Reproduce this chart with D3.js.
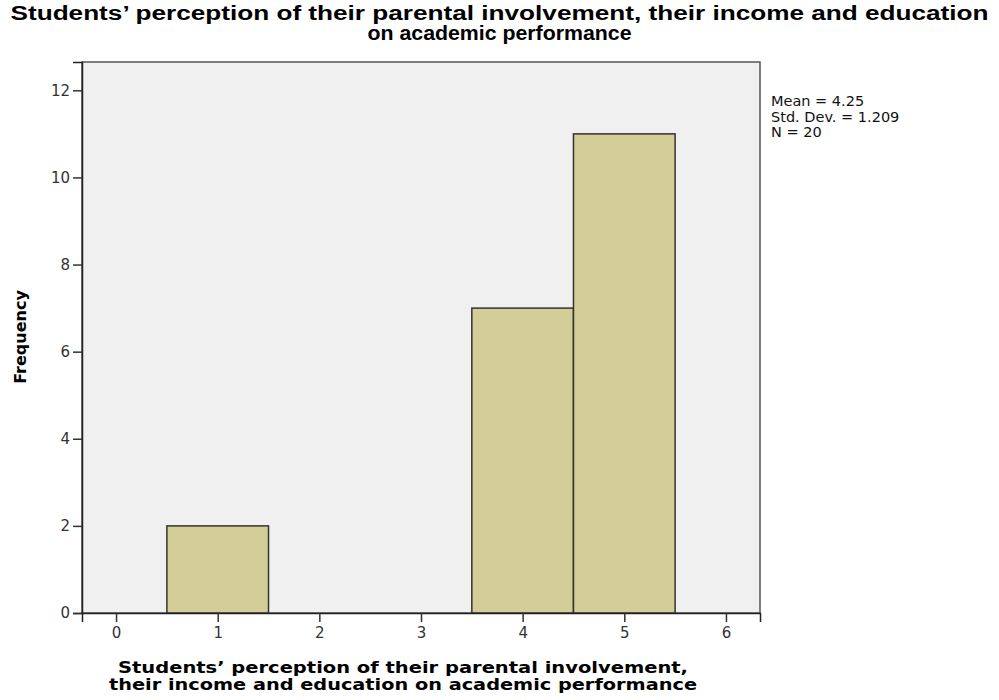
<!DOCTYPE html>
<html>
<head>
<meta charset="utf-8">
<script src="https://cdn.jsdelivr.net/npm/d3@7"></script>
<style>
  body { margin: 0; background: #fff; }
  svg { display: block; }
</style>
</head>
<body>
<div id="chart"></div>
<script>
// histogram data: bin centre and count
const binCenters = [1, 2, 3, 4, 5];
const binCounts = [2, 0, 0, 7, 11];
const binWidth = 1;
const xTicks = [0, 1, 2, 3, 4, 5, 6];
const yTicks = [0, 2, 4, 6, 8, 10, 12];
const statsLines = ["Mean = 4.25", "Std. Dev. = 1.209", "N = 20"];
const titleLines = [
  "Students\u2019 perception of their parental involvement, their income and education",
  "on academic performance"
];
const xLabelLines = [
  "Students\u2019 perception of their parental involvement,",
  "their income and education on academic performance"
];

const W = 999, H = 700;
const plot = { left: 82, right: 760, top: 62, bottom: 613 };

const svg = d3.select("#chart").append("svg")
  .attr("width", W)
  .attr("height", H);

const x = d3.scaleLinear().domain([-0.335, 6.335]).range([plot.left, plot.right]);
const y = d3.scaleLinear().domain([0, 12.65]).range([plot.bottom, plot.top]);

// plot background
svg.append("rect")
  .attr("x", plot.left)
  .attr("y", plot.top)
  .attr("width", plot.right - plot.left)
  .attr("height", plot.bottom - plot.top)
  .attr("fill", "#f0f0f0")
  .attr("stroke", "#555")
  .attr("stroke-width", 1.5);

// bars
const bins = binCenters.map((c, i) => ({ c: c, n: binCounts[i] })).filter(d => d.n > 0);
svg.append("g")
  .selectAll("rect")
  .data(bins)
  .join("rect")
  .attr("x", d => x(d.c - binWidth / 2))
  .attr("y", d => y(d.n))
  .attr("width", d => x(d.c + binWidth / 2) - x(d.c - binWidth / 2))
  .attr("height", d => y(0) - y(d.n))
  .attr("fill", "#d3ce98")
  .attr("stroke", "#333")
  .attr("stroke-width", 1.5);

// axes
const yAxis = svg.append("g")
  .attr("transform", `translate(${plot.left},0)`)
  .call(d3.axisLeft(y).tickValues(yTicks).tickFormat(d3.format("d")).tickSize(9).tickPadding(3));
const xAxis = svg.append("g")
  .attr("transform", `translate(0,${plot.bottom})`)
  .call(d3.axisBottom(x).tickValues(xTicks).tickFormat(d3.format("d")).tickSize(9).tickPadding(5));

[xAxis, yAxis].forEach(a => {
  a.attr("font-size", 15).attr("font-family", "'DejaVu Sans', Verdana, sans-serif");
  a.select(".domain").attr("stroke", "#222").attr("stroke-width", 1.5);
  a.selectAll(".tick line").attr("stroke", "#333").attr("stroke-width", 1.5);
  a.selectAll(".tick text").attr("fill", "#333");
});

// title
svg.append("g")
  .selectAll("text")
  .data(titleLines)
  .join("text")
  .attr("x", W / 2)
  .attr("y", (d, i) => 20 + i * 20)
  .attr("text-anchor", "middle")
  .attr("textLength", (d, i) => i === 0 ? 978 : 264)
  .attr("lengthAdjust", "spacingAndGlyphs")
  .style("font-family", "'Liberation Sans Narrow', 'Arial Narrow', Arial, sans-serif")
  .style("font-weight", "bold")
  .style("font-size", "20px")
  .attr("fill", "#000")
  .text(d => d);

// x axis label
svg.append("g")
  .selectAll("text")
  .data(xLabelLines)
  .join("text")
  .attr("x", (plot.left + 730) / 2 - 3)
  .attr("y", (d, i) => 673 + i * 17)
  .attr("text-anchor", "middle")
  .attr("textLength", (d, i) => i === 0 ? 570 : 588)
  .attr("lengthAdjust", "spacingAndGlyphs")
  .style("font-family", "'DejaVu Sans', Verdana, sans-serif")
  .style("font-weight", "bold")
  .style("font-size", "15px")
  .attr("fill", "#000")
  .text(d => d);

// y axis label
svg.append("text")
  .attr("transform", `translate(26,337) rotate(-90)`)
  .attr("text-anchor", "middle")
  .style("font-family", "'DejaVu Sans', Verdana, sans-serif")
  .style("font-weight", "bold")
  .style("font-size", "16px")
  .attr("fill", "#000")
  .text("Frequency");

// stats box
svg.append("g")
  .selectAll("text")
  .data(statsLines)
  .join("text")
  .attr("x", 771)
  .attr("y", (d, i) => 106 + i * 15.5)
  .style("font-family", "'DejaVu Sans', Verdana, sans-serif")
  .style("font-size", "14.5px")
  .attr("fill", "#111")
  .text(d => d);
</script>
</body>
</html>
